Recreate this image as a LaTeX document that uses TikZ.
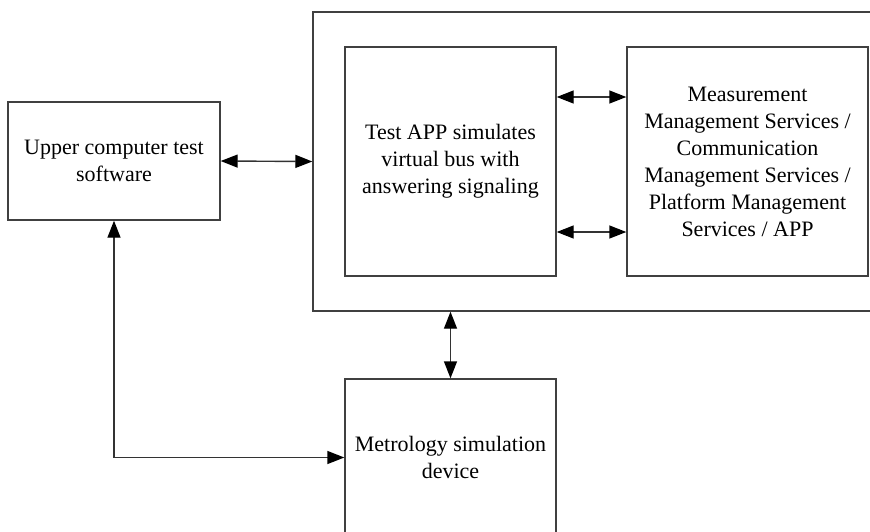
\documentclass[tikz,border=0pt]{standalone}
\usepackage{fontspec}
\setmainfont{Liberation Serif}
\usetikzlibrary{arrows.meta}
\begin{document}
\begin{tikzpicture}[x=1pt,y=-1pt,
  box/.style={draw=black!75,line width=1.4pt,rectangle,inner sep=0pt,align=center,
    font=\fontsize{22}{27}\selectfont},
  link/.style={draw=black!80,line width=1.4pt,{Triangle[length=17pt,width=13pt,color=black]}-{Triangle[length=17pt,width=13pt,color=black]}}]
\clip (0,0) rectangle (870,531);
% blocks
\node[box,minimum width=212pt,minimum height=118pt] (upper) at (114,161) {Upper computer test\\software};
\node[box,minimum width=587pt,minimum height=299pt] (outer) at (606.5,161.5) {};
\node[box,minimum width=211pt,minimum height=229pt] (app) at (450.5,161.5) {Test APP simulates\\virtual bus with\\answering signaling};
\node[box,minimum width=241pt,minimum height=229pt] (svc) at (747.5,161.5) {Measurement\\Management Services /\\Communication\\Management Services /\\Platform Management\\Services / APP};
\node[box,minimum width=211pt,minimum height=157pt] (metro) at (450.5,457.5) {Metrology simulation\\device};
% connectors
\draw[link] (upper.east) -- (outer.west);
\draw[link] ([yshift=64.5pt]app.east) -- ([yshift=64.5pt]svc.west);
\draw[link] ([yshift=-70.5pt]app.east) -- ([yshift=-70.5pt]svc.west);
\draw[link] (metro.north |- outer.south) -- (metro.north);
\draw[link] (upper.south) |- (metro.west);
\end{tikzpicture}
\end{document}
